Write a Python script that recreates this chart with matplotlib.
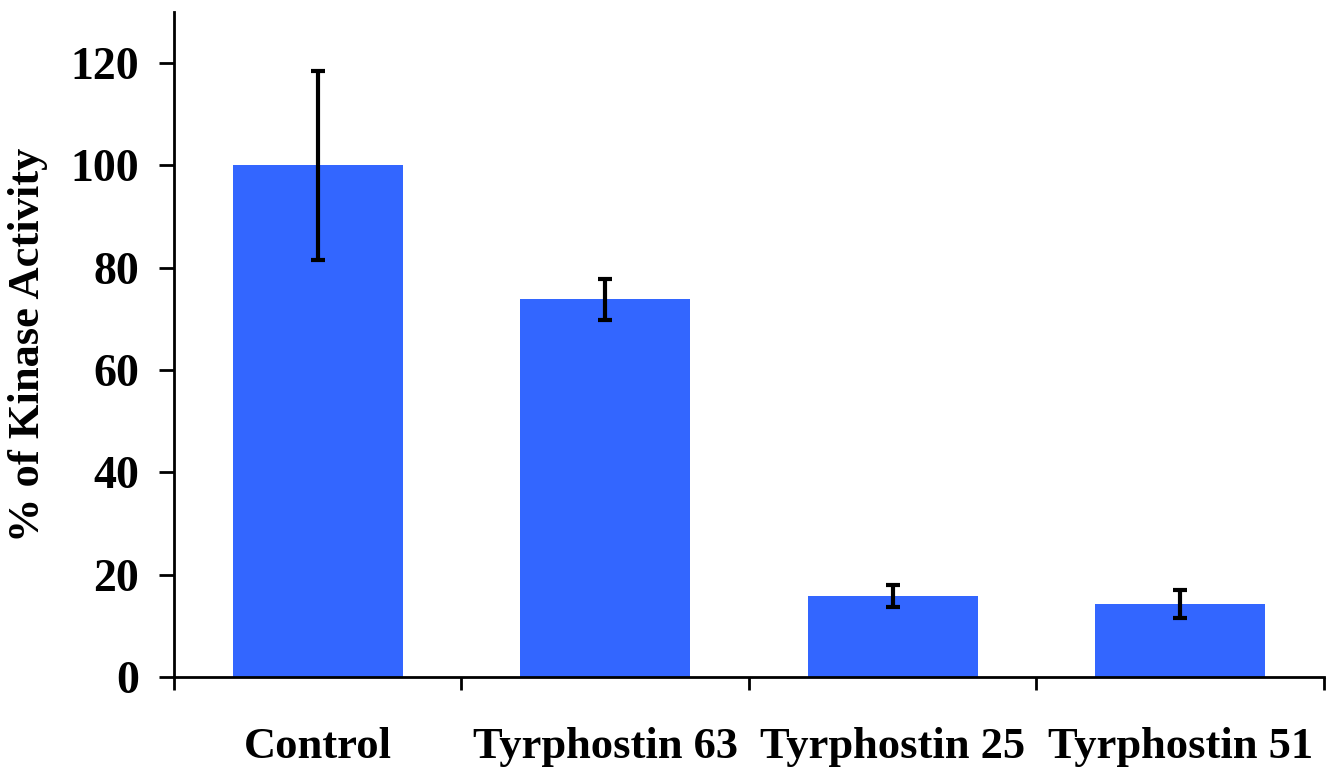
import numpy as np
import matplotlib
matplotlib.use("Agg")
import matplotlib.pyplot as plt

categories = ['Control', 'Tyrphostin 63', 'Tyrphostin 25', 'Tyrphostin 51']
activity = [100.0, 73.8, 15.8, 14.3]
errors = [18.5, 4.0, 2.1, 2.8]

plt.rcParams['font.family'] = ['Liberation Serif', 'DejaVu Serif']
plt.rcParams['font.weight'] = 'bold'

fig = plt.figure(figsize=(13.33, 7.67), dpi=100)
ax = fig.add_axes([0.1305, 0.1173, 0.8627, 0.8671])

x = np.arange(len(categories))
ax.bar(x, activity, width=0.59, color='#3366FF', zorder=2)
ax.errorbar(x, activity, yerr=errors, fmt='none', ecolor='black',
            elinewidth=3, capsize=5, capthick=3, zorder=3)

ax.set_xlim(-0.5, len(categories) - 0.5)
ax.set_ylim(0, 130)
ax.set_yticks(np.arange(0, 121, 20))
ax.tick_params(axis='y', labelsize=33, width=2, length=11, pad=14)

# boundary ticks, labels centred under bars
ax.set_xticks(np.arange(-0.5, len(categories), 1.0))
ax.set_xticklabels([])
ax.set_xticks(x, minor=True)
ax.set_xticklabels(categories, minor=True, fontsize=32, fontweight='bold')
ax.tick_params(axis='x', which='major', width=2, length=9)
ax.tick_params(axis='x', which='minor', length=0, pad=36)

ax.set_ylabel('% of Kinase Activity', fontsize=32, fontweight='bold', labelpad=16)

for s in ['top', 'right']:
    ax.spines[s].set_visible(False)
for s in ['left', 'bottom']:
    ax.spines[s].set_linewidth(2)

fig.savefig('out.png', dpi=100)
